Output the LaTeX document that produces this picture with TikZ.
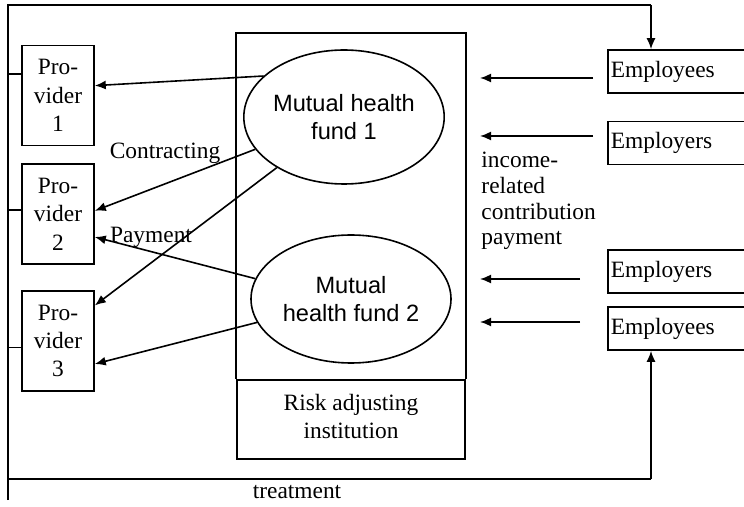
\documentclass[tikz,border=0pt]{standalone}
\usepackage{fontspec}
\setmainfont{Liberation Serif}
\newfontfamily\fundfont{Liberation Sans}
\usetikzlibrary{arrows.meta,shapes.geometric}

\begin{document}
\begin{tikzpicture}[x=0.5pt, y=-0.5pt, line width=0.8pt, >={Latex[length=5.5pt,width=4.5pt]},
		font=\fontsize{11.7}{13.8}\selectfont,
		prov/.style = {draw, minimum width=36pt, minimum height=50pt, inner sep=0pt, align=center, font=\fontsize{11.7}{14.2}\selectfont},
		fund/.style = {draw, ellipse, inner sep=0pt, align=center, font=\fundfont\fontsize{11.8}{13.8}\selectfont},
		payer/.style = {draw, anchor=west, minimum height=21.5pt, text width=95pt, inner sep=1.5pt, align=left}]
		\useasboundingbox (0,0) rectangle (744,507);
		\clip (0,0) rectangle (744,507);
		
		\node[prov] (1) at (58,95.5) {Pro-\\vider\\1};
		\node[prov] (2) at (58,214) {Pro-\\vider\\2};
		\node[prov] (3) at (58,341) {Pro-\\vider\\3};
		
		\node[fund, minimum width=93pt, minimum height=67pt] (4) at (344,117) {Mutual health\\fund 1};
		\node[fund, minimum width=100pt, minimum height=64pt] (5) at (351,299) {Mutual\\health fund 2};
		
		\node[draw, minimum width=114pt, minimum height=39.5pt, align=center] (6) at (351,419.5) {Risk adjusting\\institution\rule[-3pt]{0pt}{0pt}};
		\draw (6.north west) -- ++(0,-346) -| (6.north east);
		
		\node[payer] (7) at (607,71.5) {Employees};
		\node[payer] (8) at (607,143) {Employers};
		\node[payer] (9) at (607,271.5) {Employers};
		\node[payer] (10) at (607,328.5) {Employees};
		
		\node (11) at (165,153) {Contracting};
		\node (12) at (151,237) {Payment};
		\node[anchor=west, align=left, font=\fontsize{11.7}{12.8}\selectfont] (13) at (474,201) {income-\\related\\contribution\\payment};
		\node (14) at (297,492) {treatment};
		
		%frame
		\coordinate (lt) at (8,5);
		\coordinate (lb) at (8,500);
		\coordinate (top) at (651,5);
		\coordinate (bot) at (651,479);
		\draw (lb) -- (lt) -- (top);
		\draw[->] (top) -- (top |- 7.north);
		\draw (lt |- bot) -- (bot);
		\draw[->] (bot) -- (bot |- 10.south);
		
		\draw (1.150) -- (1.150 -| lt);
		\draw (2.174) -- (2.174 -| lt);
		\draw (3.190) -- (3.190 -| lt);
		
		\draw[->] (4.153) -- (1.15);
		\draw[->] (4.200) -- (2.5);
		\draw[->] (4.217) -- (3.44);
		\draw[->] (5.168) -- (2.328);
		\draw[->] (5.194) -- (3.328);
		
		\foreach \i/\y/\x in {1/78/593, 2/136/593, 3/279/580, 4/322/580} {
			\coordinate (s\i) at (\x,\y);
			\coordinate (t\i) at (480,\y);
			\draw[->] (s\i) -- (t\i);
		}
	\end{tikzpicture}
\end{document}
